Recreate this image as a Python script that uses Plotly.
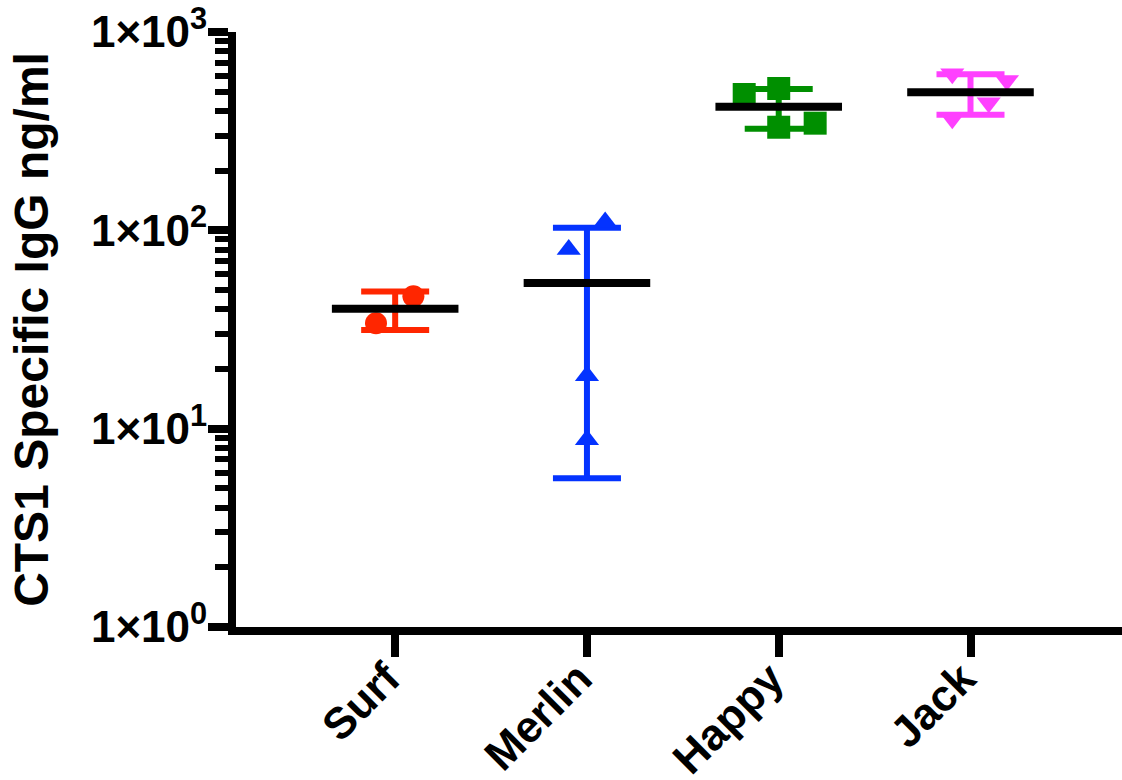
import numpy as np
import plotly.graph_objects as go

# ---- data ----
categories = ["Surf", "Merlin", "Happy", "Jack"]
surf = [46.5, 34.0]
merlin = [110.0, 80.0, 18.5, 8.8]
happy = [484.0, 519.0, 331.0, 347.0]
jack = [615.0, 570.0, 440.0, 365.0]
groups = [surf, merlin, happy, jack]

ytick_vals = [1, 10, 100, 1000]
ytick_text = ["1×10<sup>0</sup>", "1×10<sup>1</sup>", "1×10<sup>2</sup>", "1×10<sup>3</sup>"]

# ---- styling / layout ----
colors = ["#FF2600", "#0433FF", "#008F00", "#FF40FF"]
symbols = ["circle", "triangle-up", "square", "triangle-down"]
marker_sizes = [22, 21, 23, 21]
# horizontal scatter offsets of the points (category units)
x_offsets = [
    [0.095, -0.10],
    [0.095, -0.095, 0.0, 0.0],
    [-0.18, 0.0, 0.0, 0.19],
    [-0.095, 0.19, 0.095, -0.095],
]
mean_half = 0.33

FONT = "Arial, 'Liberation Sans', sans-serif"

fig = go.Figure()

for i, vals in enumerate(groups):
    v = np.array(vals, dtype=float)
    m = v.mean()
    sd = v.std(ddof=1)
    # error bar (mean ± SD)
    fig.add_trace(go.Scatter(
        x=[i], y=[m], mode="markers",
        marker=dict(size=1, color="rgba(0,0,0,0)"),
        error_y=dict(type="data", array=[sd], arrayminus=[sd], symmetric=False,
                     color=colors[i], thickness=6, width=34),
        showlegend=False, hoverinfo="skip",
    ))
    # individual points
    fig.add_trace(go.Scatter(
        x=[i + dx for dx in x_offsets[i]], y=vals, mode="markers",
        marker=dict(symbol=symbols[i], size=marker_sizes[i], color=colors[i],
                    line=dict(width=0)),
        showlegend=False,
    ))
    # mean line
    fig.add_trace(go.Scatter(
        x=[i - mean_half, i + mean_half], y=[m, m], mode="lines",
        line=dict(color="black", width=8),
        showlegend=False, hoverinfo="skip",
    ))

minor_vals = [k * 10 ** d for d in range(3) for k in range(2, 10)]

fig.update_layout(
    width=1122, height=780,
    margin=dict(l=236, r=0, t=32, b=153),
    paper_bgcolor="white", plot_bgcolor="white",
    font=dict(family=FONT, color="black", weight="bold"),
    xaxis=dict(
        range=[-0.83, 3.79], automargin=False,
        tickmode="array", tickvals=list(range(len(categories))), ticktext=categories,
        tickangle=-45, ticklabelstandoff=-22, ticklabelshift=-8,
        tickfont=dict(size=44, family=FONT, weight="bold"),
        showline=True, linecolor="black", linewidth=8,
        ticks="outside", ticklen=22, tickwidth=8, tickcolor="black",
        showgrid=False, zeroline=False,
    ),
    yaxis=dict(
        type="log", range=[0, 3], automargin=False,
        tickmode="array", tickvals=ytick_vals, ticktext=ytick_text,
        ticklabelstandoff=-8,
        tickfont=dict(size=44, family=FONT, weight="bold"),
        showline=True, linecolor="black", linewidth=8,
        ticks="outside", ticklen=20, tickwidth=8, tickcolor="black",
        minor=dict(tickmode="array", tickvals=minor_vals, ticks="outside",
                   ticklen=13, tickwidth=6, tickcolor="black", showgrid=False),
        showgrid=False, zeroline=False,
        title=dict(text="CTS1 Specific IgG ng/ml",
                   font=dict(size=48, family=FONT, weight="bold"),
                   standoff=30),
    ),
    # carry the x axis line all the way to the right edge of the page
    shapes=[dict(type="line", xref="paper", yref="paper", ysizemode="pixel",
                 yanchor=0, y0=-4, y1=-4, x0=0.95, x1=1.05,
                 line=dict(color="black", width=8), layer="above")],
)

fig.write_html(
    "out.html",
    config={"displayModeBar": False},
    post_script="document.body.style.margin='0';document.body.style.overflow='hidden';"
                "document.documentElement.style.overflow='hidden';",
)
